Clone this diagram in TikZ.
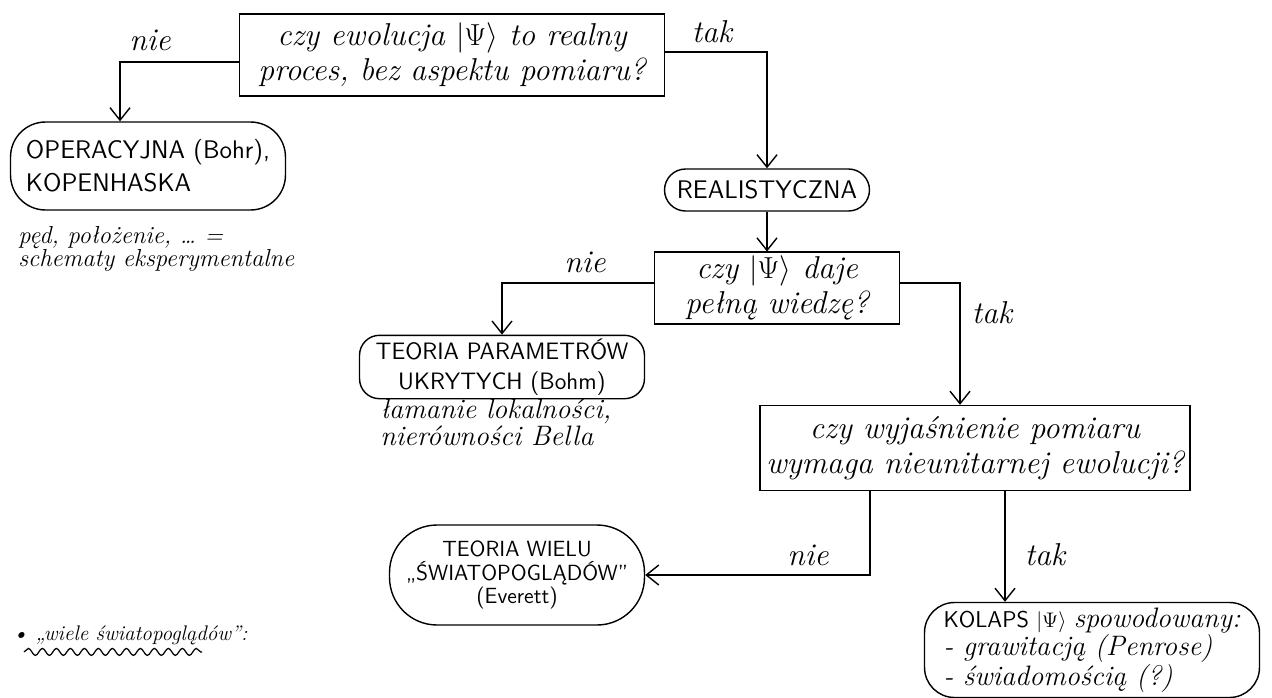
\documentclass[tikz,border=0pt]{standalone}
\usepackage{fontspec}
\usetikzlibrary{arrows.meta,shapes.geometric,shapes.misc,decorations.pathmorphing,calc}
\begin{document}
\begin{tikzpicture}[x=0.02cm,y=-0.02cm,
  hand/.style={font=\fontsize{18}{20}\selectfont\itshape},
  caps/.style={font=\fontsize{14.5}{19}\selectfont\sffamily},
  qbox/.style={draw, line width=0.8pt, rectangle, align=center, hand, inner sep=2pt},
  blob/.style={draw, line width=0.8pt, rounded corners=0.7cm, caps, inner sep=2pt},
  conn/.style={line width=0.8pt, -{Straight Barb[length=2.5mm,width=4mm]}},
  lbl/.style={hand, inner sep=0pt},
  note/.style={align=left, inner sep=0pt}]
\useasboundingbox (0,0) rectangle (1272,697);

% question boxes
\node[qbox, minimum width=8.5cm, minimum height=1.64cm] (q1) at (452,55)
  {czy ewolucja $|\Psi\rangle$ to realny\\proces, bez aspektu pomiaru?};
\node[qbox, minimum width=4.9cm, minimum height=1.32cm] (q2) at (777,288)
  {czy $|\Psi\rangle$ daje\\pełną wiedzę?};
\node[qbox, minimum width=8.6cm, minimum height=1.7cm] (q3) at (975,448)
  {czy wyjaśnienie pomiaru\\wymaga nieunitarnej ewolucji?};

% answer blobs
\node[blob, align=left, minimum width=5.5cm, minimum height=1.76cm] (op) at (148,166)
  {OPERACYJNA (Bohr),\\KOPENHASKA};
\node[blob, rounded corners=0.42cm, minimum width=4.1cm, minimum height=0.84cm] (real) at (767,190)
  {REALISTYCZNA};
\node[blob, align=center, rounded corners=0.4cm, minimum width=5.7cm, minimum height=1.16cm,
      font=\fontsize{13.5}{17}\selectfont\sffamily] (hv) at (502,367)
  {TEORIA PARAMETRÓW\\UKRYTYCH (Bohm)};
\node[blob, align=center, rounded corners=0.95cm, minimum width=5.1cm, minimum height=2cm,
      font=\fontsize{12.5}{13.5}\selectfont\sffamily] (mw) at (517,575)
  {TEORIA WIELU\\„ŚWIATOPOGLĄDÓW”\\(Everett)};
\node[blob, align=left, rounded corners=0.6cm, minimum width=6.7cm, minimum height=1.9cm,
      font=\fontsize{13}{16}\selectfont\sffamily] (col) at (1092,650)
  {KOLAPS $|\Psi\rangle$ {\itshape\rmfamily\fontsize{16}{16}\selectfont spowodowany:}\\
   {\itshape\rmfamily\fontsize{16}{16}\selectfont - grawitacją (Penrose)}\\
   {\itshape\rmfamily\fontsize{16}{16}\selectfont - świadomością (?)}};

% notes
\node[note, anchor=north west, font=\fontsize{14}{13}\selectfont\itshape] (n1) at (18,226)
  {pęd, położenie, \dots\ =\\schematy eksperymentalne};
\node[note, anchor=north west, font=\fontsize{16}{15}\selectfont\itshape] (n2) at (380,399)
  {łamanie lokalności,\\nierówności Bella};
\node[note, anchor=west, font=\fontsize{12}{14}\selectfont\itshape] (n3) at (12,635)
  {• „wiele światopoglądów”:};
\draw[line width=0.7pt, decorate, decoration={snake, amplitude=0.07cm, segment length=0.28cm}]
  ($(n3.south west)+(12,7)$) -- ($(n3.south west)+(190,7)$);

% connectors
\draw[conn] (q1.west |- 0,62) -| ([xshift=-0.56cm]op.north);
\node[lbl] (l1) at (150,40) {nie};
\draw[conn] (q1.east |- 0,52) -| (real.north);
\node[lbl] (l2) at (712,32) {tak};
\draw[conn] (real.south) -- (real.south |- q2.north);
\draw[conn] (q2.west |- 0,283) -| (hv.north);
\node[lbl] (l3) at (585,262) {nie};
\draw[conn] (q2.east |- 0,283) -| ([xshift=-0.3cm]q3.north);
\node[lbl] (l4) at (992,313) {tak};
\draw[conn] ([xshift=-2.1cm]q3.south) |- (mw.east);
\node[lbl] (l5) at (808,555) {nie};
\draw[conn] ([xshift=0.6cm]q3.south) -- ([xshift=0.6cm]q3.south |- col.north);
\node[lbl] (l6) at (1045,555) {tak};
\end{tikzpicture}
\end{document}
